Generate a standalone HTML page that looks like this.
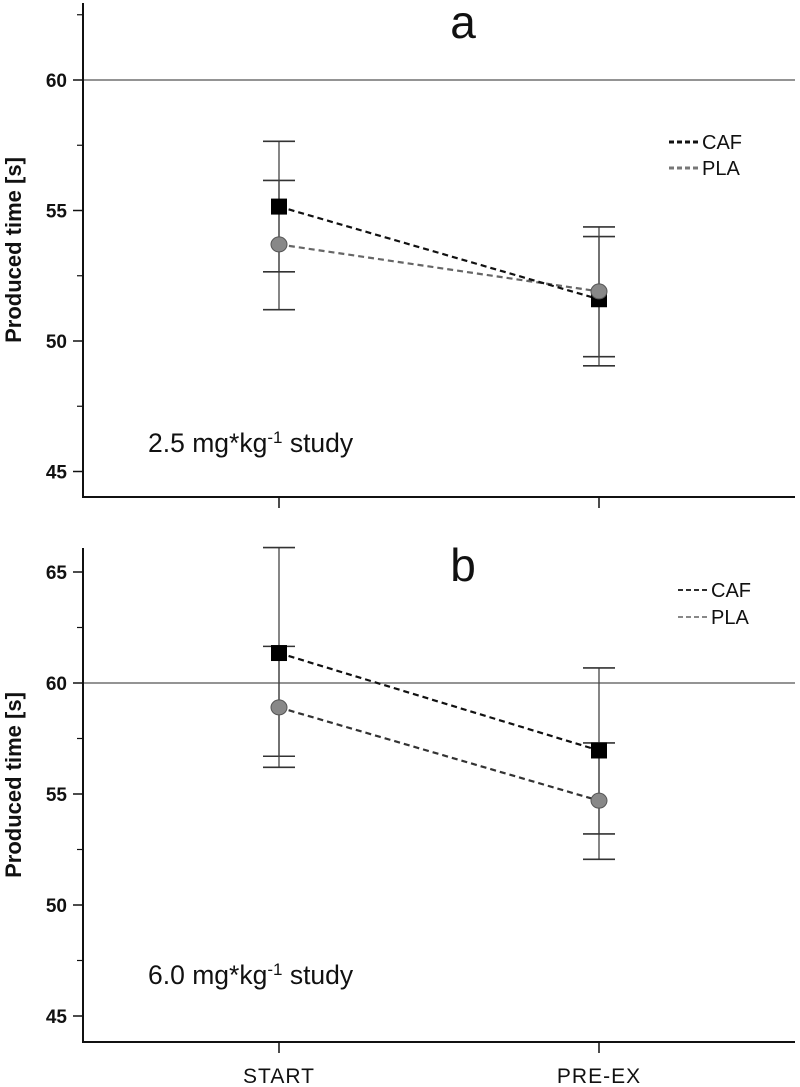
<!DOCTYPE html>
<html><head><meta charset="utf-8">
<style>
html,body{margin:0;padding:0;background:#fff;}
svg{display:block;font-family:"Liberation Sans",Arial,sans-serif;}
</style></head>
<body>
<svg id="chart" width="800" height="1087" viewBox="0 0 800 1087" xmlns="http://www.w3.org/2000/svg"></svg>
<script>
const categories = ["START", "PRE-EX"];
const seriesNames = ["CAF", "PLA"];
// Panel a (2.5 mg/kg)
const aCafMean = [55.15, 51.6];
const aCafHi = [57.65, 54.37];
const aCafLo = [52.65, 49.05];
const aPlaMean = [53.7, 51.9];
const aPlaHi = [56.15, 54.0];
const aPlaLo = [51.2, 49.4];
// Panel b (6.0 mg/kg)
const bCafMean = [61.35, 56.96];
const bCafHi = [66.1, 60.68];
const bCafLo = [56.2, 53.2];
const bPlaMean = [58.9, 54.7];
const bPlaHi = [61.65, 57.3];
const bPlaLo = [56.7, 52.06];
const aTicks = [45, 50, 55, 60];
const aMinor = [47.5, 52.5, 57.5, 62.5];
const bTicks = [45, 50, 55, 60, 65];
const bMinor = [47.5, 52.5, 57.5, 62.5];
const refValue = 60;

const NS = "http://www.w3.org/2000/svg";
const svg = document.getElementById("chart");
function el(tag, attrs, parent, text) {
  const e = document.createElementNS(NS, tag);
  for (const k in attrs) e.setAttribute(k, attrs[k]);
  if (text !== undefined) e.textContent = text;
  (parent || svg).appendChild(e);
  return e;
}
const xPos = i => 279 + i * 320;

function panel(cfg) {
  const g = el("g", {});
  
  
  const y = v => cfg.y0 - (v - cfg.v0) * cfg.ppu;
  const ref = el("line", {x1: 83, x2: 795, y1: y(refValue), y2: y(refValue), stroke: "#555", "stroke-width": 1.3}, g);
  
  
  const ya = el("line", {x1: 83, x2: 83, y1: cfg.top, y2: cfg.bottom, stroke: "#111", "stroke-width": 2}, g);
  
  
  const xa = el("line", {x1: 82, x2: 795, y1: cfg.bottom, y2: cfg.bottom, stroke: "#111", "stroke-width": 2}, g);
  
  
  cfg.ticks.forEach(t => {
    const tk = el("line", {x1: 73, x2: 83, y1: y(t), y2: y(t), stroke: "#111", "stroke-width": 1.5}, g);
    
    
    const lb = el("text", {x: 67, y: y(t) + 7, "text-anchor": "end", "font-size": 19, "font-weight": "bold", fill: "#111"}, g, String(t));
    
    
  });
  cfg.minor.forEach(t => {
    const tk = el("line", {x1: 77, x2: 83, y1: y(t), y2: y(t), stroke: "#111", "stroke-width": 1.2}, g);
    
    
  });
  categories.forEach((c, i) => {
    const tk = el("line", {x1: xPos(i), x2: xPos(i), y1: cfg.bottom, y2: cfg.bottom + 11, stroke: "#111", "stroke-width": 1.5}, g);
    
    
  });
  const yt = el("text", {x: 0, y: 0, transform: `translate(21,${cfg.titleY}) rotate(-90)`, "text-anchor": "middle", "font-size": 22, "font-weight": "bold", fill: "#111"}, g, "Produced time [s]");
  
  
  const pl = el("text", {x: 463, y: cfg.labelY, "text-anchor": "middle", "font-size": 46, fill: "#111"}, g, cfg.letter);
  
  
  const an = el("text", {x: 148, y: cfg.annY, "font-size": 26.5, fill: "#111"}, g);
  
  
  el("tspan", {}, an, cfg.dose + " mg*kg");
  el("tspan", {dy: -9, "font-size": 17}, an, "-1");
  el("tspan", {dy: 9}, an, " study");
  const series = [
    {mean: cfg.plaMean, hi: cfg.plaHi, lo: cfg.plaLo, shape: "circle", name: "pla"},
    {mean: cfg.cafMean, hi: cfg.cafHi, lo: cfg.cafLo, shape: "square", name: "caf"}
  ];
  series.forEach(s => {
    categories.forEach((c, i) => {
      const x = xPos(i);
      const v = el("line", {x1: x, x2: x, y1: y(s.hi[i]), y2: y(s.lo[i]), stroke: "#444", "stroke-width": 1.3}, g);
      
      
      [s.hi[i], s.lo[i]].forEach(val => {
        const cap = el("line", {x1: x - 16, x2: x + 16, y1: y(val), y2: y(val), stroke: "#333", "stroke-width": 1.6}, g);
        
        
      });
    });
  });
  series.forEach(s => {
    const pts = s.mean.map((v, i) => `${xPos(i)},${y(v)}`).join(" ");
    const ln = el("polyline", {points: pts, fill: "none", stroke: s.name === "caf" ? "#111" : (cfg.letter === "a" ? "#666" : "#333"), "stroke-width": 2.2, "stroke-dasharray": "6,4"}, g);
    
    
  });
  [series[1], series[0]].forEach(s => {
    s.mean.forEach((v, i) => {
      let m;
      if (s.shape === "square") {
        m = el("rect", {x: xPos(i) - 8, y: y(v) - 8, width: 16, height: 16, fill: "#000"}, g);
      } else {
        m = el("ellipse", {cx: xPos(i), cy: y(v), rx: 8, ry: 7.5, fill: "#888", stroke: "#555", "stroke-width": 1}, g);
      }
      
      
    });
  });
  seriesNames.forEach((n, k) => {
    const ly = cfg.legY + k * cfg.legGap;
    const lx = el("line", {x1: cfg.legX, x2: cfg.legX + 29, y1: ly - 7, y2: ly - 7, stroke: k === 0 ? "#111" : "#777", "stroke-width": cfg.letter === "a" ? 3 : 1.8, "stroke-dasharray": "5,3"}, g);
    
    
    const lt = el("text", {x: cfg.legX + 33, y: ly, "font-size": 20, fill: "#111"}, g, n);
    
    
  });
}

panel({name: "panel-a", letter: "a", dose: "2.5", y0: 341, v0: 50, ppu: 26.1, top: 3, bottom: 497, titleY: 250,
  ticks: aTicks, minor: aMinor, labelY: 38, annY: 452, legX: 669, legY: 149, legGap: 26,
  cafMean: aCafMean, cafHi: aCafHi, cafLo: aCafLo, plaMean: aPlaMean, plaHi: aPlaHi, plaLo: aPlaLo});
panel({name: "panel-b", letter: "b", dose: "6.0", y0: 905, v0: 50, ppu: 22.2, top: 548, bottom: 1042, titleY: 785,
  ticks: bTicks, minor: bMinor, labelY: 581, annY: 984, legX: 678, legY: 597, legGap: 27,
  cafMean: bCafMean, cafHi: bCafHi, cafLo: bCafLo, plaMean: bPlaMean, plaHi: bPlaHi, plaLo: bPlaLo});

categories.forEach((c, i) => {
  const t = el("text", {x: xPos(i), y: 1083, "text-anchor": "middle", "font-size": 21, "letter-spacing": 1, fill: "#111"}, svg, c);
  
  
});
</script>
</body></html>
